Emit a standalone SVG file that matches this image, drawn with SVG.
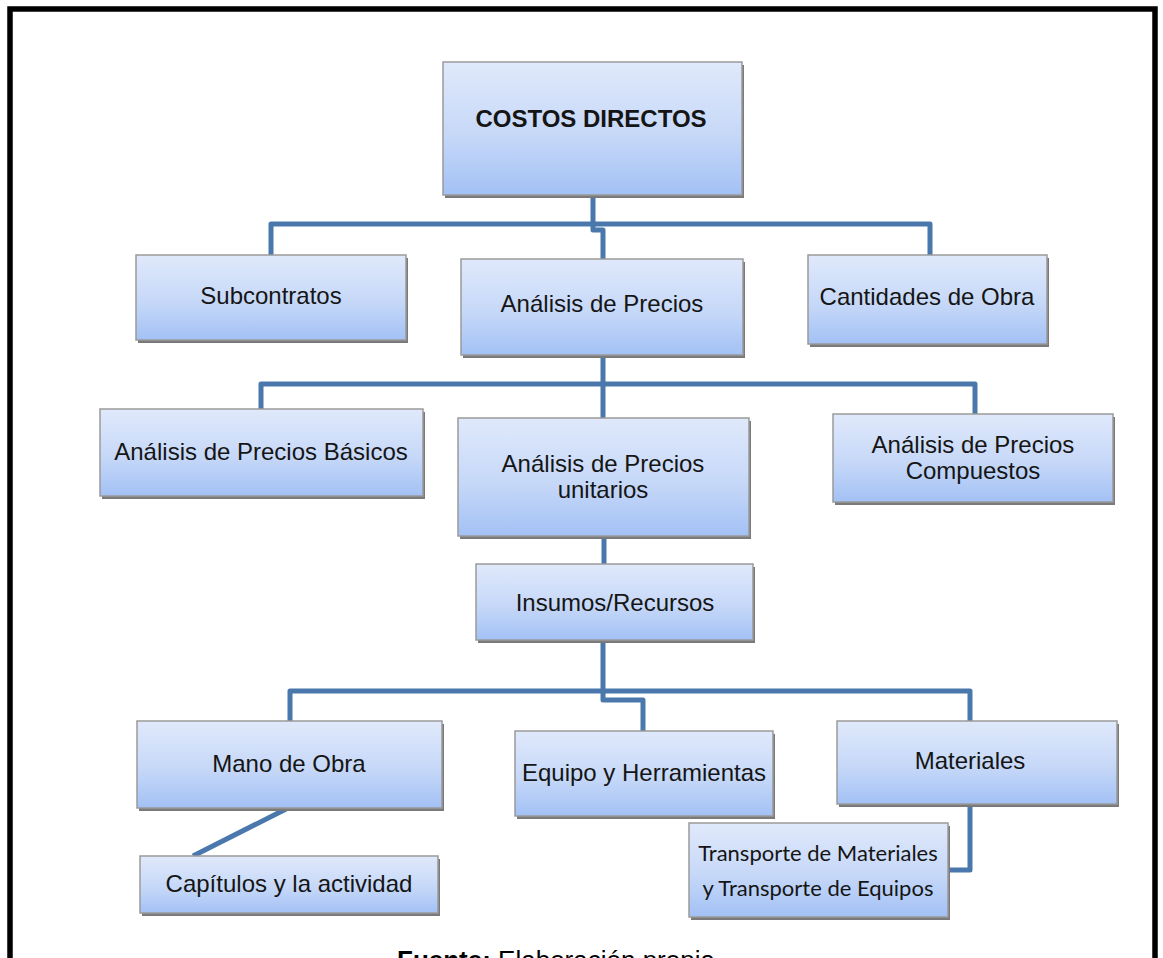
<svg xmlns="http://www.w3.org/2000/svg" width="1163" height="958" viewBox="0 0 1163 958">
  <defs>
    <linearGradient id="boxFill" x1="0" y1="0" x2="0" y2="1">
      <stop offset="0" stop-color="#e0e9fb"/>
      <stop offset="0.55" stop-color="#c6d8f8"/>
      <stop offset="1" stop-color="#a3c1f5"/>
    </linearGradient>
    <style>
      .shadow { fill: #7a7a7a; }
      .box { fill: url(#boxFill); stroke: #9a9a9a; stroke-width: 1.5; }
      .lbl { font-family: "Liberation Sans", Arial, sans-serif; font-size: 24px; fill: #151515; text-anchor: middle; }
      .title { font-weight: bold; font-size: 24px; }
      .small { font-family: Lato, "Liberation Sans", sans-serif; font-size: 22px; }
      .conn { fill: none; stroke: #4a78ad; stroke-width: 5; stroke-linejoin: round; }
    </style>
  </defs>

  <rect width="1163" height="958" fill="#ffffff"/>
  <!-- outer frame -->
  <rect x="10" y="9" width="1145" height="1000" fill="none" stroke="#000" stroke-width="5.5"/>

  <!-- connectors -->
  <g id="connectors">
    <path class="conn" d="M593,195 V230 H603 V259"/>
    <path class="conn" d="M271,255 V224 H930 V255"/>
    <path class="conn" d="M603,355 V418"/>
    <path class="conn" d="M261,409 V384 H975 V414"/>
    <path class="conn" d="M604,536 V564"/>
    <path class="conn" d="M603,640 V700 H643 V731"/>
    <path class="conn" d="M290,721 V691 H970 V721"/>
    <path class="conn" d="M288,808 L193,856"/>
    <path class="conn" d="M970,804 V870 H948"/>
  </g>

  <g id="costos-directos">
    <rect class="shadow" x="445" y="65" width="299" height="133"/>
    <rect class="box" x="443" y="62" width="299" height="133"/>
    <text class="lbl title" x="591" y="127">COSTOS DIRECTOS</text>
  </g>

  <g id="subcontratos">
    <rect class="shadow" x="138" y="258" width="270" height="85"/>
    <rect class="box" x="136" y="255" width="270" height="85"/>
    <text class="lbl" x="271" y="304">Subcontratos</text>
  </g>

  <g id="analisis-precios">
    <rect class="shadow" x="463" y="262" width="282" height="96"/>
    <rect class="box" x="461" y="259" width="282" height="96"/>
    <text class="lbl" x="602" y="312">Análisis de Precios</text>
  </g>

  <g id="cantidades-obra">
    <rect class="shadow" x="810" y="258" width="239" height="89"/>
    <rect class="box" x="808" y="255" width="239" height="89"/>
    <text class="lbl" x="927" y="305">Cantidades de Obra</text>
  </g>

  <g id="precios-basicos">
    <rect class="shadow" x="102" y="412" width="323" height="87"/>
    <rect class="box" x="100" y="409" width="323" height="87"/>
    <text class="lbl" x="261" y="460">Análisis de Precios Básicos</text>
  </g>

  <g id="precios-unitarios">
    <rect class="shadow" x="460" y="421" width="291" height="118"/>
    <rect class="box" x="458" y="418" width="291" height="118"/>
    <text class="lbl" x="603" y="472">Análisis de Precios</text>
    <text class="lbl" x="603" y="498">unitarios</text>
  </g>

  <g id="precios-compuestos">
    <rect class="shadow" x="835" y="417" width="280" height="88"/>
    <rect class="box" x="833" y="414" width="280" height="88"/>
    <text class="lbl" x="973" y="453">Análisis de Precios</text>
    <text class="lbl" x="973" y="479">Compuestos</text>
  </g>

  <g id="insumos-recursos">
    <rect class="shadow" x="478" y="567" width="277" height="76"/>
    <rect class="box" x="476" y="564" width="277" height="76"/>
    <text class="lbl" x="615" y="611">Insumos/Recursos</text>
  </g>

  <g id="mano-obra">
    <rect class="shadow" x="139" y="724" width="305" height="87"/>
    <rect class="box" x="137" y="721" width="305" height="87"/>
    <text class="lbl" x="289" y="772">Mano de Obra</text>
  </g>

  <g id="equipo-herramientas">
    <rect class="shadow" x="517" y="734" width="258" height="85"/>
    <rect class="box" x="515" y="731" width="258" height="85"/>
    <text class="lbl" x="644" y="781">Equipo y Herramientas</text>
  </g>

  <g id="materiales">
    <rect class="shadow" x="839" y="724" width="280" height="83"/>
    <rect class="box" x="837" y="721" width="280" height="83"/>
    <text class="lbl" x="970" y="769">Materiales</text>
  </g>

  <g id="capitulos-actividad">
    <rect class="shadow" x="142" y="859" width="298" height="57"/>
    <rect class="box" x="140" y="856" width="298" height="57"/>
    <text class="lbl" x="289" y="892">Capítulos y la actividad</text>
  </g>

  <g id="transporte">
    <rect class="shadow" x="691" y="826" width="259" height="94"/>
    <rect class="box" x="689" y="823" width="259" height="94"/>
    <text class="lbl small" x="818" y="861">Transporte de Materiales</text>
    <text class="lbl small" x="818" y="896">y Transporte de Equipos</text>
  </g>

  <!-- source note, running off the lower edge of the page -->
  <text x="397" y="969" font-family="'Liberation Sans', Arial, sans-serif" font-size="26" fill="#000"><tspan font-weight="bold">Fuente:</tspan> Elaboración propia</text>
</svg>
